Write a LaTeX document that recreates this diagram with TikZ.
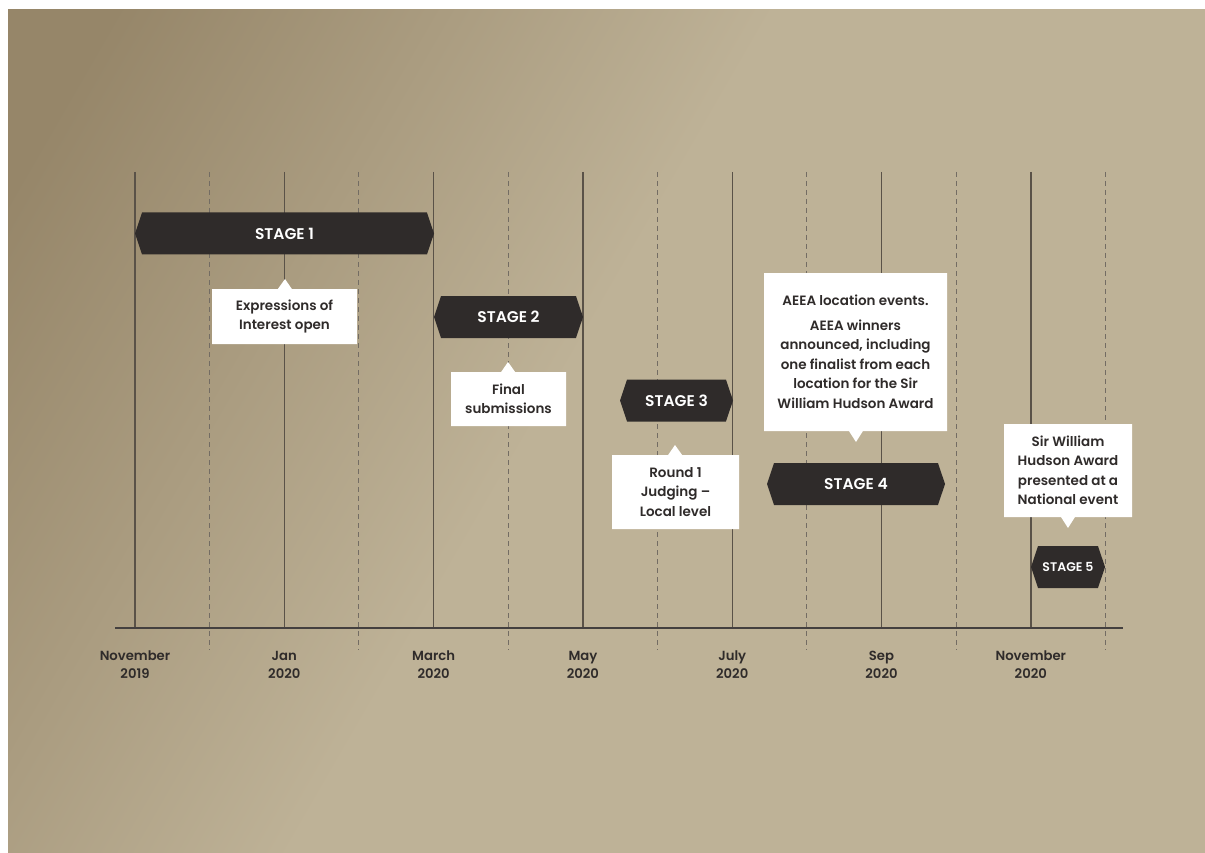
\documentclass[tikz,border=0pt]{standalone}
\usepackage{fontspec}
\setmainfont{Poppins}[BoldFont={Poppins SemiBold}]
\usetikzlibrary{shapes.symbols,shapes.callouts}
\definecolor{bgdark}{HTML}{968669}
\definecolor{bglight}{HTML}{BEB297}
\definecolor{ink}{HTML}{2F2B2A}
\definecolor{rule}{HTML}{5A5248}
\pgfdeclarehorizontalshading{bgfade}{100bp}{color(0bp)=(bgdark); color(20bp)=(bgdark); color(47bp)=(bglight); color(100bp)=(bglight)}
\tikzstyle{stage}=[signal, signal to=east and west, signal pointer angle=143, fill=ink, text=white, font=\bfseries\fontsize{15.5}{18}\selectfont, minimum height=42pt, inner sep=0pt]
\tikzstyle{note}=[rectangle callout, fill=white, text=ink, align=center, font=\bfseries\fontsize{13.5}{19.5}\selectfont, callout pointer width=14pt, inner sep=0pt]
\tikzstyle{month}=[text=ink, align=center, font=\bfseries\fontsize{13.2}{18}\selectfont]

\begin{document}
\begin{tikzpicture}[x=1pt,y=-1pt]
    \useasboundingbox (0,0) rectangle (1205,853);
    \shade[shading=bgfade, shading angle=-30] (8,10) rectangle (1205,853);
    % month grid
    \foreach \i in {0,...,6} {
        \draw[rule, line width=1.4pt] ({135+149.3*\i},172) -- ({135+149.3*\i},628);
        \draw[rule!85, line width=1.1pt, dash pattern=on 5pt off 4pt] ({209.6+149.3*\i},172) -- ({209.6+149.3*\i},650);
    }
    \draw[ink!90, line width=2pt] (115,628) -- (1123,628);
    \foreach \i/\m/\yr in {0/November/2019, 1/Jan/2020, 2/March/2020, 3/May/2020, 4/July/2020, 5/Sep/2020, 6/November/2020}
        \node[month] (m\i) at ({135+149.3*\i},665) {\m\\\yr};

    \node[stage, minimum width=299pt] (s1) at (284.5,233.5) {STAGE 1};
    \node[stage, minimum width=149pt] (s2) at (508.5,317) {STAGE 2};
    \node[stage, minimum width=113pt] (s3) at (676.5,400.5) {STAGE 3};
    \node[stage, minimum width=178pt] (s4) at (856,484) {STAGE 4};
    \node[stage, minimum width=74pt, font=\bfseries\fontsize{12.5}{14}\selectfont] (s5) at (1068,567) {STAGE 5};

    \node[note, minimum width=145pt, minimum height=55pt, callout absolute pointer={(285,279)}] (n1) at (284.5,316.5) {Expressions of\\Interest open};
    \node[note, minimum width=115pt, minimum height=54pt, callout absolute pointer={(508,362)}] (n2) at (508.5,399) {Final\\submissions};
    \node[note, minimum width=127pt, minimum height=74pt, callout absolute pointer={(675,445)}] (n3) at (675.5,492) {Round 1\\Judging --\\Local level};
    \node[note, minimum width=183pt, minimum height=158pt, callout absolute pointer={(856,442)}] (n4) at (855.5,352) {AEEA location events.\\[5pt]AEEA winners\\announced, including\\one finalist from each\\location for the Sir\\William Hudson Award};
    \node[note, minimum width=128pt, minimum height=93pt, callout absolute pointer={(1068,528)}] (n5) at (1068,470.5) {Sir William\\Hudson Award\\presented at a\\National event};
\end{tikzpicture}
\end{document}
